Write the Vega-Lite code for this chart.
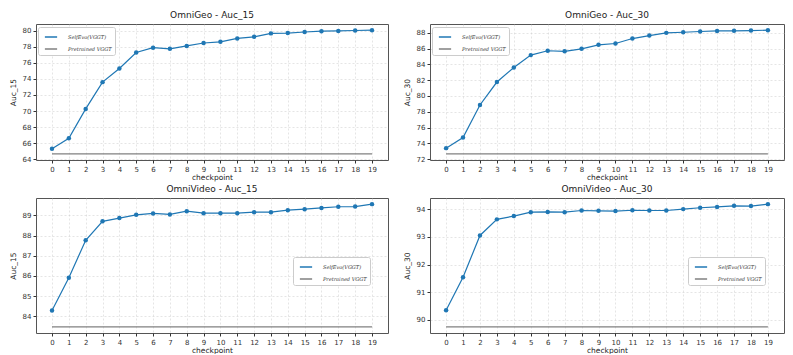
{
  "$schema": "https://vega.github.io/schema/vega-lite/v6.json",
  "background": "white",
  "padding": {"left": 8, "top": 10, "right": 0, "bottom": 0},
  "datasets": {
    "geo15": [
      {"checkpoint":0,"value":65.3,"series":"SelfEvo(VGGT)"},{"checkpoint":1,"value":66.6,"series":"SelfEvo(VGGT)"},{"checkpoint":2,"value":70.26,"series":"SelfEvo(VGGT)"},{"checkpoint":3,"value":73.6,"series":"SelfEvo(VGGT)"},{"checkpoint":4,"value":75.3,"series":"SelfEvo(VGGT)"},{"checkpoint":5,"value":77.3,"series":"SelfEvo(VGGT)"},{"checkpoint":6,"value":77.9,"series":"SelfEvo(VGGT)"},{"checkpoint":7,"value":77.76,"series":"SelfEvo(VGGT)"},{"checkpoint":8,"value":78.12,"series":"SelfEvo(VGGT)"},{"checkpoint":9,"value":78.48,"series":"SelfEvo(VGGT)"},{"checkpoint":10,"value":78.63,"series":"SelfEvo(VGGT)"},{"checkpoint":11,"value":79.05,"series":"SelfEvo(VGGT)"},{"checkpoint":12,"value":79.25,"series":"SelfEvo(VGGT)"},{"checkpoint":13,"value":79.68,"series":"SelfEvo(VGGT)"},{"checkpoint":14,"value":79.72,"series":"SelfEvo(VGGT)"},{"checkpoint":15,"value":79.85,"series":"SelfEvo(VGGT)"},{"checkpoint":16,"value":79.96,"series":"SelfEvo(VGGT)"},{"checkpoint":17,"value":79.99,"series":"SelfEvo(VGGT)"},{"checkpoint":18,"value":80.04,"series":"SelfEvo(VGGT)"},{"checkpoint":19,"value":80.08,"series":"SelfEvo(VGGT)"},
      {"checkpoint":0,"value":64.66,"series":"Pretrained VGGT"},{"checkpoint":19,"value":64.66,"series":"Pretrained VGGT"}
    ],
    "geo30": [
      {"checkpoint":0,"value":73.39,"series":"SelfEvo(VGGT)"},{"checkpoint":1,"value":74.74,"series":"SelfEvo(VGGT)"},{"checkpoint":2,"value":78.86,"series":"SelfEvo(VGGT)"},{"checkpoint":3,"value":81.77,"series":"SelfEvo(VGGT)"},{"checkpoint":4,"value":83.62,"series":"SelfEvo(VGGT)"},{"checkpoint":5,"value":85.18,"series":"SelfEvo(VGGT)"},{"checkpoint":6,"value":85.73,"series":"SelfEvo(VGGT)"},{"checkpoint":7,"value":85.66,"series":"SelfEvo(VGGT)"},{"checkpoint":8,"value":85.98,"series":"SelfEvo(VGGT)"},{"checkpoint":9,"value":86.48,"series":"SelfEvo(VGGT)"},{"checkpoint":10,"value":86.65,"series":"SelfEvo(VGGT)"},{"checkpoint":11,"value":87.28,"series":"SelfEvo(VGGT)"},{"checkpoint":12,"value":87.66,"series":"SelfEvo(VGGT)"},{"checkpoint":13,"value":88.0,"series":"SelfEvo(VGGT)"},{"checkpoint":14,"value":88.08,"series":"SelfEvo(VGGT)"},{"checkpoint":15,"value":88.17,"series":"SelfEvo(VGGT)"},{"checkpoint":16,"value":88.25,"series":"SelfEvo(VGGT)"},{"checkpoint":17,"value":88.26,"series":"SelfEvo(VGGT)"},{"checkpoint":18,"value":88.29,"series":"SelfEvo(VGGT)"},{"checkpoint":19,"value":88.34,"series":"SelfEvo(VGGT)"},
      {"checkpoint":0,"value":72.67,"series":"Pretrained VGGT"},{"checkpoint":19,"value":72.67,"series":"Pretrained VGGT"}
    ],
    "vid15": [
      {"checkpoint":0,"value":84.29,"series":"SelfEvo(VGGT)"},{"checkpoint":1,"value":85.91,"series":"SelfEvo(VGGT)"},{"checkpoint":2,"value":87.77,"series":"SelfEvo(VGGT)"},{"checkpoint":3,"value":88.71,"series":"SelfEvo(VGGT)"},{"checkpoint":4,"value":88.87,"series":"SelfEvo(VGGT)"},{"checkpoint":5,"value":89.03,"series":"SelfEvo(VGGT)"},{"checkpoint":6,"value":89.1,"series":"SelfEvo(VGGT)"},{"checkpoint":7,"value":89.05,"series":"SelfEvo(VGGT)"},{"checkpoint":8,"value":89.21,"series":"SelfEvo(VGGT)"},{"checkpoint":9,"value":89.11,"series":"SelfEvo(VGGT)"},{"checkpoint":10,"value":89.11,"series":"SelfEvo(VGGT)"},{"checkpoint":11,"value":89.11,"series":"SelfEvo(VGGT)"},{"checkpoint":12,"value":89.16,"series":"SelfEvo(VGGT)"},{"checkpoint":13,"value":89.16,"series":"SelfEvo(VGGT)"},{"checkpoint":14,"value":89.26,"series":"SelfEvo(VGGT)"},{"checkpoint":15,"value":89.31,"series":"SelfEvo(VGGT)"},{"checkpoint":16,"value":89.37,"series":"SelfEvo(VGGT)"},{"checkpoint":17,"value":89.43,"series":"SelfEvo(VGGT)"},{"checkpoint":18,"value":89.44,"series":"SelfEvo(VGGT)"},{"checkpoint":19,"value":89.56,"series":"SelfEvo(VGGT)"},
      {"checkpoint":0,"value":83.48,"series":"Pretrained VGGT"},{"checkpoint":19,"value":83.48,"series":"Pretrained VGGT"}
    ],
    "vid30": [
      {"checkpoint":0,"value":90.35,"series":"SelfEvo(VGGT)"},{"checkpoint":1,"value":91.54,"series":"SelfEvo(VGGT)"},{"checkpoint":2,"value":93.05,"series":"SelfEvo(VGGT)"},{"checkpoint":3,"value":93.63,"series":"SelfEvo(VGGT)"},{"checkpoint":4,"value":93.75,"series":"SelfEvo(VGGT)"},{"checkpoint":5,"value":93.89,"series":"SelfEvo(VGGT)"},{"checkpoint":6,"value":93.9,"series":"SelfEvo(VGGT)"},{"checkpoint":7,"value":93.89,"series":"SelfEvo(VGGT)"},{"checkpoint":8,"value":93.95,"series":"SelfEvo(VGGT)"},{"checkpoint":9,"value":93.94,"series":"SelfEvo(VGGT)"},{"checkpoint":10,"value":93.93,"series":"SelfEvo(VGGT)"},{"checkpoint":11,"value":93.96,"series":"SelfEvo(VGGT)"},{"checkpoint":12,"value":93.95,"series":"SelfEvo(VGGT)"},{"checkpoint":13,"value":93.95,"series":"SelfEvo(VGGT)"},{"checkpoint":14,"value":94.0,"series":"SelfEvo(VGGT)"},{"checkpoint":15,"value":94.05,"series":"SelfEvo(VGGT)"},{"checkpoint":16,"value":94.08,"series":"SelfEvo(VGGT)"},{"checkpoint":17,"value":94.12,"series":"SelfEvo(VGGT)"},{"checkpoint":18,"value":94.11,"series":"SelfEvo(VGGT)"},{"checkpoint":19,"value":94.18,"series":"SelfEvo(VGGT)"},
      {"checkpoint":0,"value":89.75,"series":"Pretrained VGGT"},{"checkpoint":19,"value":89.75,"series":"Pretrained VGGT"}
    ]
  },
  "columns": 2,
  "spacing": {"row": 3, "column": 13},
  "resolve": {"scale": {"color": "independent"}, "legend": {"color": "independent"}},
  "concat": [
    {
      "width": 352, "height": 136,
      "title": "OmniGeo - Auc_15",
      "data": {"name": "geo15"},
      "encoding": {
        "x": {"field": "checkpoint", "type": "quantitative", "scale": {"domain": [-0.95, 19.95], "nice": false, "zero": false}, "axis": {"values": [0,1,2,3,4,5,6,7,8,9,10,11,12,13,14,15,16,17,18,19], "title": "checkpoint"}},
        "y": {"field": "value", "type": "quantitative", "scale": {"domain": [63.889, 80.851], "nice": false, "zero": false}, "axis": {"values": [64,66,68,70,72,74,76,78,80], "title": "Auc_15"}},
        "color": {"field": "series", "type": "nominal", "scale": {"domain": ["SelfEvo(VGGT)", "Pretrained VGGT"], "range": ["#1f77b4", "#808080"]}, "legend": {"orient": "none", "legendX": 2, "legendY": 3}}
      },
      "layer": [
        {"mark": {"type": "line", "strokeWidth": 1.2}},
        {"transform": [{"filter": "datum.series === 'SelfEvo(VGGT)'"}], "mark": {"type": "point", "filled": true, "size": 20, "opacity": 1}}
      ]
    },
    {
      "width": 354, "height": 136,
      "title": "OmniGeo - Auc_30",
      "data": {"name": "geo30"},
      "encoding": {
        "x": {"field": "checkpoint", "type": "quantitative", "scale": {"domain": [-0.95, 19.95], "nice": false, "zero": false}, "axis": {"values": [0,1,2,3,4,5,6,7,8,9,10,11,12,13,14,15,16,17,18,19], "title": "checkpoint"}},
        "y": {"field": "value", "type": "quantitative", "scale": {"domain": [71.8865, 89.1235], "nice": false, "zero": false}, "axis": {"values": [72,74,76,78,80,82,84,86,88], "title": "Auc_30"}},
        "color": {"field": "series", "type": "nominal", "scale": {"domain": ["SelfEvo(VGGT)", "Pretrained VGGT"], "range": ["#1f77b4", "#808080"]}, "legend": {"orient": "none", "legendX": 2, "legendY": 3}}
      },
      "layer": [
        {"mark": {"type": "line", "strokeWidth": 1.2}},
        {"transform": [{"filter": "datum.series === 'SelfEvo(VGGT)'"}], "mark": {"type": "point", "filled": true, "size": 20, "opacity": 1}}
      ]
    },
    {
      "width": 352, "height": 135,
      "title": "OmniVideo - Auc_15",
      "data": {"name": "vid15"},
      "encoding": {
        "x": {"field": "checkpoint", "type": "quantitative", "scale": {"domain": [-0.95, 19.95], "nice": false, "zero": false}, "axis": {"values": [0,1,2,3,4,5,6,7,8,9,10,11,12,13,14,15,16,17,18,19], "title": "checkpoint"}},
        "y": {"field": "value", "type": "quantitative", "scale": {"domain": [83.176, 89.864], "nice": false, "zero": false}, "axis": {"values": [84,85,86,87,88,89], "title": "Auc_15"}},
        "color": {"field": "series", "type": "nominal", "scale": {"domain": ["SelfEvo(VGGT)", "Pretrained VGGT"], "range": ["#1f77b4", "#808080"]}, "legend": {"orient": "none", "legendX": 257, "legendY": 59}}
      },
      "layer": [
        {"mark": {"type": "line", "strokeWidth": 1.2}},
        {"transform": [{"filter": "datum.series === 'SelfEvo(VGGT)'"}], "mark": {"type": "point", "filled": true, "size": 20, "opacity": 1}}
      ]
    },
    {
      "width": 354, "height": 135,
      "title": "OmniVideo - Auc_30",
      "data": {"name": "vid30"},
      "encoding": {
        "x": {"field": "checkpoint", "type": "quantitative", "scale": {"domain": [-0.95, 19.95], "nice": false, "zero": false}, "axis": {"values": [0,1,2,3,4,5,6,7,8,9,10,11,12,13,14,15,16,17,18,19], "title": "checkpoint"}},
        "y": {"field": "value", "type": "quantitative", "scale": {"domain": [89.5285, 94.4015], "nice": false, "zero": false}, "axis": {"values": [90,91,92,93,94], "title": "Auc_30"}},
        "color": {"field": "series", "type": "nominal", "scale": {"domain": ["SelfEvo(VGGT)", "Pretrained VGGT"], "range": ["#1f77b4", "#808080"]}, "legend": {"orient": "none", "legendX": 258, "legendY": 59}}
      },
      "layer": [
        {"mark": {"type": "line", "strokeWidth": 1.2}},
        {"transform": [{"filter": "datum.series === 'SelfEvo(VGGT)'"}], "mark": {"type": "point", "filled": true, "size": 20, "opacity": 1}}
      ]
    }
  ],
  "config": {
    "font": "DejaVu Sans",
    "view": {"stroke": "#555", "strokeWidth": 1},
    "title": {"fontSize": 9, "fontWeight": "normal", "font": "DejaVu Sans", "color": "#222", "offset": 4},
    "axis": {"domain": false, "tickColor": "#333", "tickSize": 3, "labelFontSize": 7, "labelColor": "#333", "labelFont": "DejaVu Sans", "labelOverlap": false, "titleFont": "DejaVu Sans", "titleFontSize": 7.5, "titleFontWeight": "normal", "titleColor": "#222", "gridColor": "#ccc", "gridDash": [2, 2], "gridOpacity": 0.5, "labelPadding": 2},
    "axisX": {"labelAngle": 0, "titlePadding": 1},
    "axisY": {"titlePadding": 5},
    "legend": {"title": null, "padding": 3, "fillColor": "white", "strokeColor": "#ccc", "cornerRadius": 2, "labelFont": "DejaVu Serif", "labelFontStyle": "italic", "labelFontSize": 5, "labelColor": "#333", "symbolType": "stroke", "symbolSize": 150, "symbolStrokeWidth": 1.5, "rowPadding": 2, "symbolOffset": 3, "labelOffset": 10, "labelExpr": "datum.label + '                          '"}
  }
}
